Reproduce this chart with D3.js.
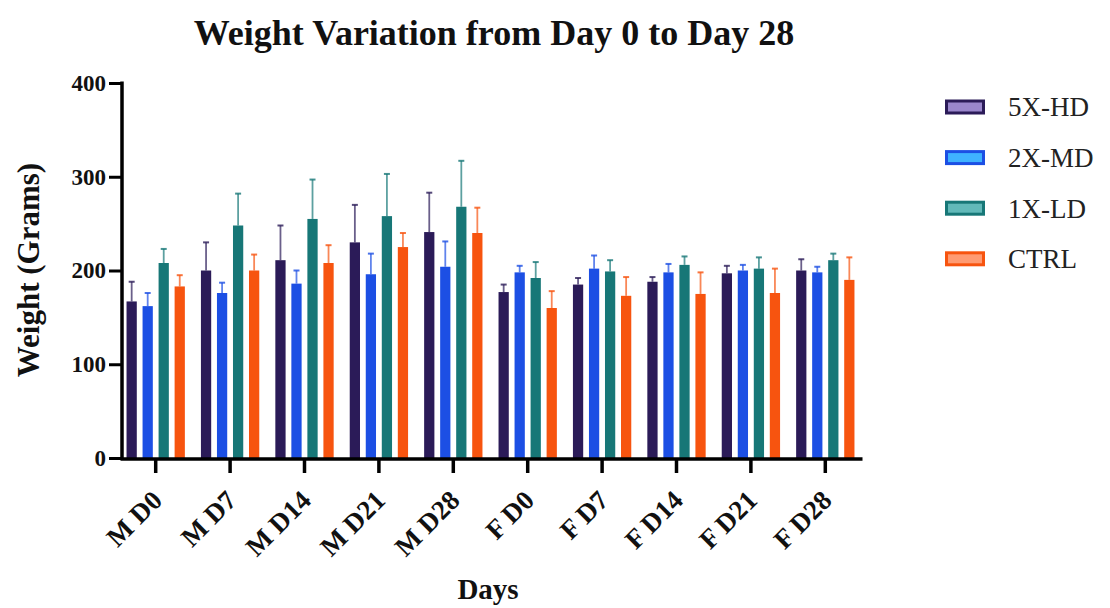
<!DOCTYPE html>
<html>
<head>
<meta charset="utf-8">
<script src="https://cdn.jsdelivr.net/npm/d3@7"></script>
<style>
  body { margin: 0; background: #fff; }
  svg { font-family: "Liberation Serif", "Times New Roman", serif; }
</style>
</head>
<body>
<div id="chart"></div>
<script>
// Données
const categories = ["M D0", "M D7", "M D14", "M D21", "M D28", "F D0", "F D7", "F D14", "F D21", "F D28"];
const seriesNames = ["5X-HD", "2X-MD", "1X-LD", "CTRL"];
const hd = [167, 200, 211, 230, 241, 177, 185, 188, 197, 200];
const hdErr = [21, 30, 37, 40, 42, 8, 7, 5, 8, 12];
const md = [162, 176, 186, 196, 204, 198, 202, 198, 200, 198];
const mdErr = [14, 11, 14, 22, 27, 7, 14, 9, 6, 6];
const ld = [208, 248, 255, 258, 268, 192, 199, 206, 202, 211];
const ldErr = [15, 34, 42, 45, 49, 17, 12, 9, 12, 7];
const ctrl = [183, 200, 208, 225, 240, 160, 173, 175, 176, 190];
const ctrlErr = [12, 17, 19, 15, 27, 18, 20, 23, 26, 24];
const yTicks = [0, 100, 200, 300, 400];

const colors = ["#2b1b58", "#1c4fe4", "#177777", "#f7540f"];
const lightColors = ["#9a86cc", "#3fb2ff", "#62b9b9", "#ff9b72"];

const values = [hd, md, ld, ctrl];
const errors = [hdErr, mdErr, ldErr, ctrlErr];

const width = 1110;
const height = 608;

const svg = d3.select("#chart")
    .append("svg")
    .attr("width", width)
    .attr("height", height);

// Echelles
const x0 = d3.scaleBand()
    .domain(categories)
    .range([118.5, 862.5])
    .paddingInner(0.216)
    .paddingOuter(0.108);

const x1 = d3.scaleBand()
    .domain(seriesNames)
    .range([0, x0.bandwidth()])
    .paddingInner(0.36)
    .paddingOuter(0);

const y = d3.scaleLinear()
    .domain([0, 400])
    .range([458, 83]);

// Barres
const groups = svg.append("g")
    .selectAll("g")
    .data(categories)
    .enter().append("g")
    .attr("transform", d => `translate(${x0(d)},0)`);

seriesNames.forEach((s, si) => {
    groups.append("rect")
        .attr("x", x1(s))
        .attr("y", (d, i) => y(values[si][i]))
        .attr("width", x1.bandwidth())
        .attr("height", (d, i) => y(0) - y(values[si][i]))
        .attr("fill", colors[si]);

    // Barres d'erreur (partie haute seulement)
    groups.append("line")
        .attr("x1", x1(s) + x1.bandwidth() / 2)
        .attr("x2", x1(s) + x1.bandwidth() / 2)
        .attr("y1", (d, i) => y(values[si][i]))
        .attr("y2", (d, i) => y(values[si][i] + errors[si][i]))
        .attr("stroke", colors[si])
        .attr("stroke-opacity", 0.7)
        .attr("stroke-width", 1.8);

    groups.append("line")
        .attr("x1", x1(s) + x1.bandwidth() / 2 - 3)
        .attr("x2", x1(s) + x1.bandwidth() / 2 + 3)
        .attr("y1", (d, i) => y(values[si][i] + errors[si][i]))
        .attr("y2", (d, i) => y(values[si][i] + errors[si][i]))
        .attr("stroke", colors[si])
        .attr("stroke-opacity", 0.8)
        .attr("stroke-width", 2);
});

// Axe Y
const yAxis = svg.append("g")
    .attr("transform", "translate(122,0)")
    .call(d3.axisLeft(y).tickValues(yTicks).tickSize(13).tickPadding(3));
yAxis.select(".domain").remove();
yAxis.selectAll(".tick line").attr("stroke", "#000").attr("stroke-width", 3);
yAxis.selectAll(".tick text")
    .attr("font-family", "Liberation Serif")
    .attr("font-weight", "bold")
    .attr("font-size", "23px")
    .attr("fill", "#111");

svg.append("line")
    .attr("x1", 122).attr("x2", 122)
    .attr("y1", 81.5).attr("y2", 460)
    .attr("stroke", "#000").attr("stroke-width", 3.5);

// Axe X
const xAxis = svg.append("g")
    .attr("transform", "translate(0,459)")
    .call(d3.axisBottom(x0).tickSize(14).tickSizeOuter(0));
xAxis.select(".domain").remove();
xAxis.selectAll(".tick line").attr("stroke", "#000").attr("stroke-width", 3.5);
xAxis.selectAll(".tick text")
    .attr("font-family", "Liberation Serif")
    .attr("font-weight", "bold")
    .attr("font-size", "27px")
    .attr("fill", "#111")
    .attr("text-anchor", "end")
    .attr("transform", "translate(8,43) rotate(-45)")
    .attr("dy", 0)
    .attr("y", 0);

svg.append("line")
    .attr("x1", 120.5).attr("x2", 862.5)
    .attr("y1", 459).attr("y2", 459)
    .attr("stroke", "#000").attr("stroke-width", 3.5);

// Titres
svg.append("text")
    .attr("x", 494)
    .attr("y", 45)
    .attr("text-anchor", "middle")
    .attr("font-weight", "bold")
    .attr("font-size", "36px")
    .attr("fill", "#111")
    .text("Weight Variation from Day 0 to Day 28");

svg.append("text")
    .attr("x", 488)
    .attr("y", 599)
    .attr("text-anchor", "middle")
    .attr("font-weight", "bold")
    .attr("font-size", "29px")
    .attr("fill", "#111")
    .text("Days");

svg.append("text")
    .attr("transform", "translate(39,270) rotate(-90)")
    .attr("text-anchor", "middle")
    .attr("font-weight", "bold")
    .attr("font-size", "31px")
    .attr("fill", "#111")
    .text("Weight (Grams)");

// Légende
const legend = svg.append("g")
    .selectAll("g")
    .data(seriesNames)
    .enter().append("g")
    .attr("transform", (d, i) => `translate(945,${107 + i * 50.6})`);

legend.append("rect")
    .attr("x", 1.5)
    .attr("y", -6)
    .attr("width", 37)
    .attr("height", 12)
    .attr("fill", (d, i) => lightColors[i])
    .attr("stroke", (d, i) => colors[i])
    .attr("stroke-width", 3);

legend.append("text")
    .attr("x", 63)
    .attr("y", 0)
    .attr("dy", "0.35em")
    .attr("font-size", "27px")
    .attr("fill", "#222")
    .text(d => d);
</script>
</body>
</html>
